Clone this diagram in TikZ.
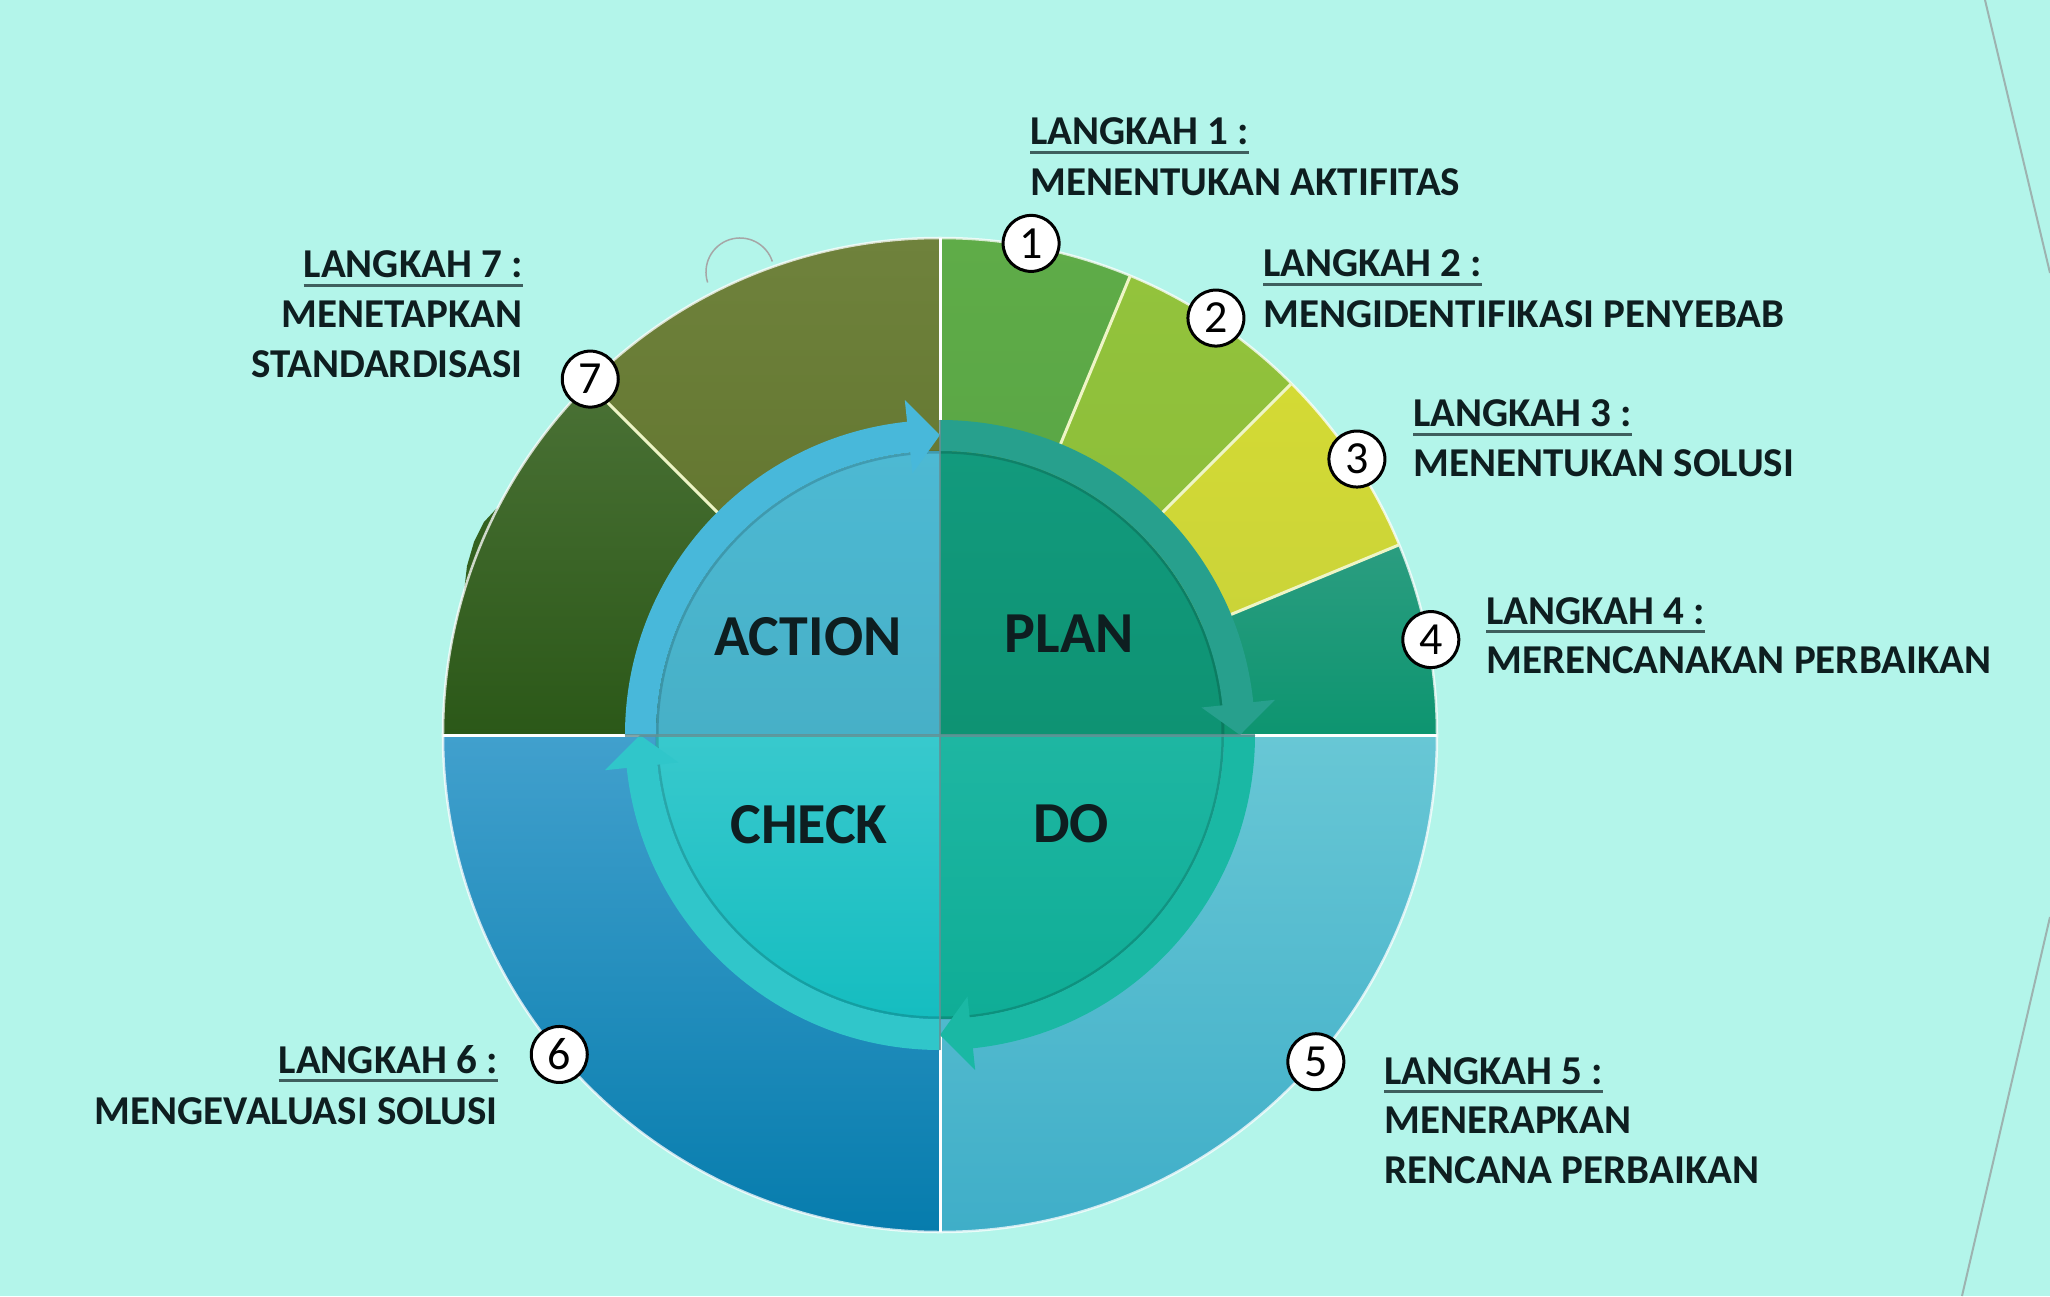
\documentclass[tikz,border=0pt]{standalone}
\usepackage{fontspec}
\setmainfont{Carlito}
\definecolor{bg}{HTML}{B3F5EA}
\definecolor{txt}{HTML}{0E1E20}
\definecolor{ulc}{HTML}{3F5F5E}
\definecolor{s1t}{HTML}{5FAC48}\definecolor{s1b}{HTML}{55A143}
\definecolor{s2t}{HTML}{93C33C}\definecolor{s2b}{HTML}{87BA37}
\definecolor{s3t}{HTML}{D4DA34}\definecolor{s3b}{HTML}{C6D13B}
\definecolor{s4t}{HTML}{2B9D80}\definecolor{s4b}{HTML}{0D9570}
\definecolor{s7at}{HTML}{6F823C}\definecolor{s7ab}{HTML}{5B6F28}
\definecolor{s7bt}{HTML}{4A7135}\definecolor{s7bb}{HTML}{2B5818}
\definecolor{s6t}{HTML}{41A0CD}\definecolor{s6b}{HTML}{067CAD}
\definecolor{s5t}{HTML}{68C7D5}\definecolor{s5b}{HTML}{3FAEC8}
\definecolor{qat}{HTML}{4DB9D3}\definecolor{qab}{HTML}{47B0C7}
\definecolor{qpt}{HTML}{129A7D}\definecolor{qpb}{HTML}{0E9373}
\definecolor{qct}{HTML}{38C9CD}\definecolor{qcb}{HTML}{15BDC0}
\definecolor{qdt}{HTML}{1EB6A2}\definecolor{qdb}{HTML}{0FAD96}
\definecolor{ringA}{HTML}{48B8DA}
\definecolor{ringP}{HTML}{27A08D}
\definecolor{ringD}{HTML}{1AB8A4}
\definecolor{ringC}{HTML}{30C6CA}
\definecolor{sepy}{HTML}{EEF5C6}
\definecolor{divc}{HTML}{668F93}
\definecolor{edgec}{HTML}{9DB3B0}
\definecolor{blobc}{HTML}{33611F}
\newsavebox\ulbox
\newcommand\ulhead[1]{\sbox\ulbox{#1}\rlap{\textcolor{ulc}{\rule[-9pt]{\wd\ulbox}{3pt}}}\usebox\ulbox}
\newcommand\outsect[4]{\shade[top color=#3, bottom color=#4] (0,0) -- (#1:497) arc[start angle=#1, end angle=#2, radius=497] -- cycle;}
\newcommand\quadfill[4]{\shade[top color=#3, bottom color=#4] (0,0) -- (#1:284) arc[start angle=#1, end angle=#2, radius=284] -- cycle;}
% ring from start #1 to end #2 (clockwise), colour #3
\newcommand\ringarrow[3]{%
  \pgfmathsetmacro\rb{#2+6}%
  \fill[#3] (#1:315) arc[start angle=#1, end angle=\rb, radius=315] -- (\rb:337) -- (#2:300) -- (\rb:263) -- (\rb:284) arc[start angle=\rb, end angle=#1, radius=284] -- cycle;}
\begin{document}
\begin{tikzpicture}[x=1pt,y=1pt,
  head/.style={font=\fontsize{41}{49}\selectfont\bfseries, text=txt, inner sep=0pt},
  headL/.style={head, anchor=base west},
  headR/.style={head, anchor=base east},
  quad/.style={font=\fontsize{58}{60}\selectfont\bfseries, text=txt, inner sep=0pt, anchor=center},
  num/.style={circle, draw=black, line width=3pt, fill=white, minimum size=56pt, inner sep=0pt, font=\fontsize{46}{46}\selectfont, text=black},
  sepline/.style={line width=3pt},
]
\fill[bg] (-940,-561) rectangle (1110,735);
\useasboundingbox (-940,-561) rectangle (1110,735);
% right edge lines
\coordinate (e1) at (1045,735); \coordinate (e2) at (1110,462);
\coordinate (e3) at (1110,-182); \coordinate (e4) at (1022,-561);
\draw[edgec, line width=2pt] (e1) -- (e2);
\draw[edgec, line width=2pt] (e3) -- (e4);
% small artifact arc
\draw[gray!70, line width=1.5pt] (-200,463) ++(18:34) arc[start angle=18, end angle=198, radius=34];
% outer ring sectors
\outsect{67.5}{90}{s1t}{s1b}
\outsect{45}{67.5}{s2t}{s2b}
\outsect{22.5}{45}{s3t}{s3b}
\outsect{0}{22.5}{s4t}{s4b}
\outsect{90}{135}{s7at}{s7ab}
\outsect{135}{180}{s7bt}{s7bb}
\outsect{180}{270}{s6t}{s6b}
\outsect{270}{360}{s5t}{s5b}
% blob on the left edge
\fill[blobc] (-443,227) -- (-456,213) -- (-466,193) -- (-473,169) -- (-476,143) arc[start angle=163.3, end angle=152.9, radius=497] -- cycle;
% outer edge glow
\draw[white, line width=2.5pt, opacity=0.75] (0,0) circle (497);
% separators
\foreach \a in {67.5,45,22.5,135} \draw[sepy, sepline] (\a:300) -- (\a:497);
\foreach \a in {0,90,180,270} \draw[white, sepline] (\a:300) -- (\a:497);
% inner disc
\quadfill{90}{180}{qat}{qab}
\quadfill{0}{90}{qpt}{qpb}
\quadfill{180}{270}{qct}{qcb}
\quadfill{270}{360}{qdt}{qdb}
\draw[black, opacity=0.16, line width=3pt] (0,0) circle (283);
% arrow ring
\ringarrow{180}{90}{ringA}
\ringarrow{90}{0}{ringP}
\ringarrow{0}{-90}{ringD}
\ringarrow{-90}{-180}{ringC}
% dividers
\draw[divc, line width=2pt, opacity=0.8] (0,-315) -- (0,315);
\draw[divc, line width=3pt, opacity=0.8] (-315,0) -- (315,0);
% quadrant labels
\node[quad] (action) at (-132,98) {ACTION};
\node[quad] (plan) at (129,101) {PLAN};
\node[quad] (check) at (-131,-90) {CHECK};
\node[quad] (do) at (131,-89) {DO};
% step labels
\node[headL] (l1a) at (90,590) {\ulhead{LANGKAH 1 :}};
\node[headL] (l1b) at (90,539) {MENENTUKAN AKTIFITAS};
\node[headL] (l2a) at (323,458) {\ulhead{LANGKAH 2 :}};
\node[headL] (l2b) at (323,407) {MENGIDENTIFIKASI PENYEBAB};
\node[headL] (l3a) at (473,308) {\ulhead{LANGKAH 3 :}};
\node[headL] (l3b) at (473,258) {MENENTUKAN SOLUSI};
\node[headL] (l4a) at (546,111) {\ulhead{LANGKAH 4 :}};
\node[headL] (l4b) at (546,62) {MERENCANAKAN PERBAIKAN};
\node[headL] (l5a) at (444,-349) {\ulhead{LANGKAH 5 :}};
\node[headL] (l5b) at (444,-398) {MENERAPKAN};
\node[headL] (l5c) at (444,-448) {RENCANA PERBAIKAN};
\node[headR] (l6a) at (-442,-338) {\ulhead{LANGKAH 6 :}};
\node[headR] (l6b) at (-442,-389) {MENGEVALUASI SOLUSI};
\node[headR] (l7a) at (-417,457) {\ulhead{LANGKAH 7 :}};
\node[headR] (l7b) at (-417,407) {MENETAPKAN};
\node[headR] (l7c) at (-417,357) {STANDARDISASI};
% number circles
\node[num] (n1) at (79.5:500) {1};
\node[num] (n2) at (56.5:500) {2};
\node[num] (n3) at (33.5:500) {3};
\node[num] (n4) at (11:500) {4};
\node[num] (n5) at (-41:498) {5};
\node[num] (n6) at (220:497) {6};
\node[num] (n7) at (134.5:499) {7};
\end{tikzpicture}
\end{document}
